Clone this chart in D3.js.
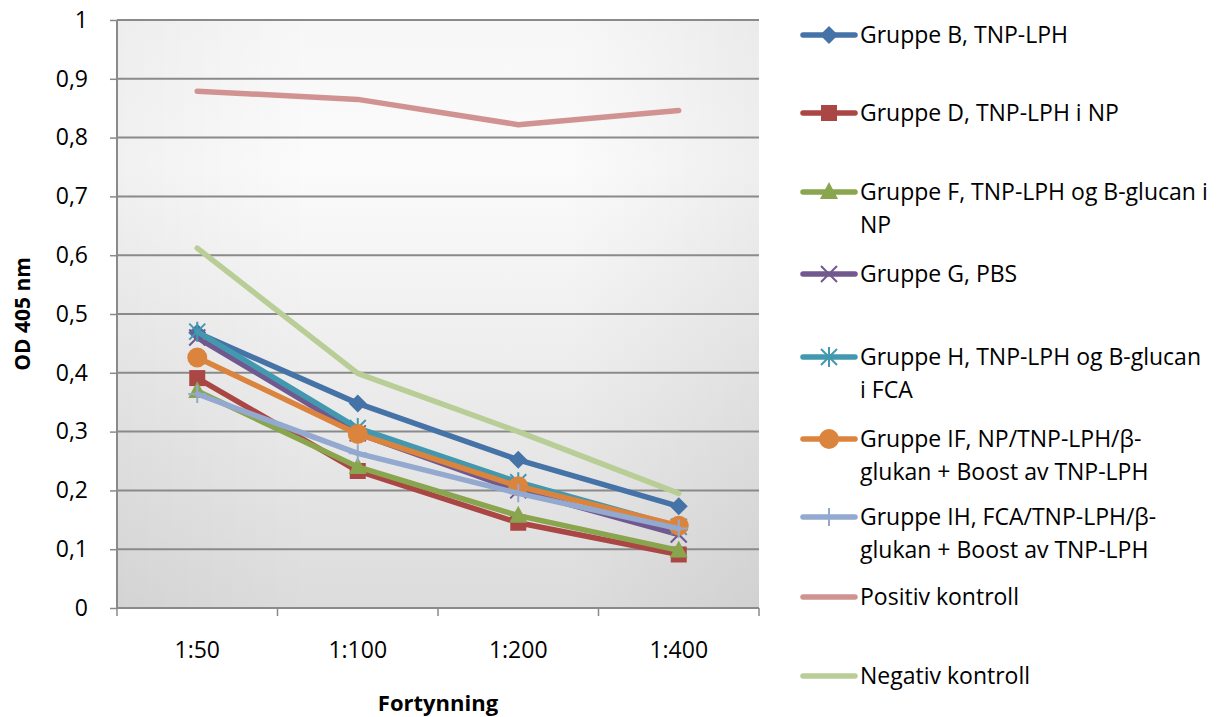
<!DOCTYPE html>
<html>
<head>
<meta charset="utf-8">
<script src="https://cdn.jsdelivr.net/npm/d3@7"></script>
<style>
  html, body { margin: 0; padding: 0; background: #ffffff; }
  svg { display: block; font-family: "Open Sans", "Noto Sans", sans-serif; }
</style>
</head>
<body>
<svg id="chart" width="1220" height="717"></svg>
<script>
// Dilution steps on the x axis
const dilutions = ["1:50", "1:100", "1:200", "1:400"];

// Y axis tick values and their labels (Norwegian decimal comma)
const yTicks = [0, 0.1, 0.2, 0.3, 0.4, 0.5, 0.6, 0.7, 0.8, 0.9, 1];
const yTickLabels = ["0", "0,1", "0,2", "0,3", "0,4", "0,5", "0,6", "0,7", "0,8", "0,9", "1"];

// Series names (legend lines), in drawing order
const seriesNames = [
  ["Gruppe B, TNP-LPH"],
  ["Gruppe D, TNP-LPH i NP"],
  ["Gruppe F, TNP-LPH og B-glucan i", "NP"],
  ["Gruppe G, PBS"],
  ["Gruppe H, TNP-LPH og B-glucan", "i FCA"],
  ["Gruppe IF, NP/TNP-LPH/β-", "glukan + Boost av TNP-LPH"],
  ["Gruppe IH, FCA/TNP-LPH/β-", "glukan + Boost av TNP-LPH"],
  ["Positiv kontroll"],
  ["Negativ kontroll"]
];

// OD 405 nm readings per series, one value per dilution
const gruppeB  = [0.468, 0.348, 0.252, 0.173];
const gruppeD  = [0.391, 0.233, 0.145, 0.091];
const gruppeF  = [0.369, 0.240, 0.157, 0.098];
const gruppeG  = [0.460, 0.297, 0.200, 0.125];
const gruppeH  = [0.470, 0.306, 0.214, 0.138];
const gruppeIF = [0.426, 0.296, 0.207, 0.140];
const gruppeIH = [0.364, 0.263, 0.195, 0.135];
const positiv  = [0.879, 0.865, 0.822, 0.846];
const negativ  = [0.612, 0.399, 0.300, 0.195];

const seriesValues = [gruppeB, gruppeD, gruppeF, gruppeG, gruppeH, gruppeIF, gruppeIH, positiv, negativ];

const seriesColors = ["#4572A7", "#AA4643", "#89A54E", "#71588F", "#4198AF", "#DB843D", "#93A9CF", "#D19392", "#B9CD96"];
const seriesMarkers = ["diamond", "square", "triangle", "x", "star", "circle", "plus", "none", "none"];

const svg = d3.select("#chart");
const plot = { left: 117, right: 759, top: 20, bottom: 608 };
const fontSize = 23;

const x = d3.scaleBand().domain(dilutions).range([plot.left, plot.right]);
const y = d3.scaleLinear().domain([0, 1]).range([plot.bottom, plot.top]);
const cx = d => x(d) + x.bandwidth() / 2;

// Plot area background: soft vertical gradient
const defs = svg.append("defs");
const grad = defs.append("linearGradient").attr("id", "bg").attr("x1", 0).attr("y1", 0).attr("x2", 0).attr("y2", 1);
grad.append("stop").attr("offset", "0%").attr("stop-color", "#f7f7f7");
grad.append("stop").attr("offset", "25%").attr("stop-color", "#fbfbfb");
grad.append("stop").attr("offset", "100%").attr("stop-color", "#dcdcdc");
const gradH = defs.append("linearGradient").attr("id", "bgH").attr("x1", 0).attr("y1", 0).attr("x2", 1).attr("y2", 0);
gradH.append("stop").attr("offset", "0%").attr("stop-color", "#000").attr("stop-opacity", 0.04);
gradH.append("stop").attr("offset", "30%").attr("stop-color", "#000").attr("stop-opacity", 0);
gradH.append("stop").attr("offset", "70%").attr("stop-color", "#000").attr("stop-opacity", 0);
gradH.append("stop").attr("offset", "100%").attr("stop-color", "#000").attr("stop-opacity", 0.05);

svg.append("rect")
  .attr("x", plot.left).attr("y", plot.top)
  .attr("width", plot.right - plot.left).attr("height", plot.bottom - plot.top)
  .attr("fill", "url(#bg)");
svg.append("rect")
  .attr("x", plot.left).attr("y", plot.top)
  .attr("width", plot.right - plot.left).attr("height", plot.bottom - plot.top)
  .attr("fill", "url(#bgH)");

// Horizontal gridlines
svg.append("g")
  .selectAll("line")
  .data(yTicks.slice(1))
  .join("line")
  .attr("x1", plot.left).attr("x2", plot.right)
  .attr("y1", d => y(d)).attr("y2", d => y(d))
  .attr("stroke", "#8a8a8a").attr("stroke-width", 2);

// Y axis
const yAxis = svg.append("g")
  .attr("transform", `translate(${plot.left},0)`)
  .call(d3.axisLeft(y).tickValues(yTicks).tickFormat((d, i) => yTickLabels[i]).tickSize(7).tickPadding(22));
yAxis.select(".domain").attr("stroke", "#8a8a8a").attr("stroke-width", 2).attr("d", `M-0,${plot.top}V${plot.bottom}`);
yAxis.selectAll(".tick line").attr("stroke", "#8a8a8a").attr("stroke-width", 1.5);
yAxis.selectAll(".tick text").attr("font-size", fontSize).attr("fill", "#000").attr("font-family", "'Open Sans', sans-serif");

// X axis
const xAxis = svg.append("g")
  .attr("transform", `translate(0,${plot.bottom})`)
  .call(d3.axisBottom(x).tickSize(0).tickPadding(34));
xAxis.select(".domain").attr("stroke", "#8a8a8a").attr("stroke-width", 2).attr("d", `M${plot.left},0H${plot.right}`);
xAxis.selectAll(".tick text").attr("font-size", fontSize).attr("fill", "#000").attr("font-family", "'Open Sans', sans-serif");
// category boundary tick marks
svg.append("g")
  .selectAll("line")
  .data(dilutions.concat(["end"]))
  .join("line")
  .attr("x1", (d, i) => plot.left + i * x.bandwidth())
  .attr("x2", (d, i) => plot.left + i * x.bandwidth())
  .attr("y1", plot.bottom).attr("y2", plot.bottom + 8)
  .attr("stroke", "#8a8a8a").attr("stroke-width", 1.5);

// Axis titles
svg.append("text")
  .attr("x", (plot.left + plot.right) / 2).attr("y", 711)
  .attr("text-anchor", "middle").attr("font-size", 22).attr("font-weight", "bold")
  .text("Fortynning");
svg.append("text")
  .attr("transform", `translate(30,${(plot.top + plot.bottom) / 2}) rotate(-90)`)
  .attr("text-anchor", "middle").attr("font-size", 21).attr("font-weight", "bold")
  .text("OD 405 nm");

// Marker drawing helper
function drawMarker(g, type, color, px, py) {
  const s = 8;
  if (type === "diamond") {
    g.append("path").attr("d", `M${px},${py - 9}L${px + 9},${py}L${px},${py + 9}L${px - 9},${py}Z`).attr("fill", color);
  } else if (type === "square") {
    g.append("rect").attr("x", px - s).attr("y", py - s).attr("width", 2 * s).attr("height", 2 * s).attr("fill", color);
  } else if (type === "triangle") {
    g.append("path").attr("d", `M${px},${py - 10}L${px + 9},${py + 7}L${px - 9},${py + 7}Z`).attr("fill", color);
  } else if (type === "circle") {
    g.append("circle").attr("cx", px).attr("cy", py).attr("r", 10).attr("fill", color);
  } else if (type === "x") {
    g.append("path").attr("d", `M${px - 8},${py - 8}L${px + 8},${py + 8}M${px - 8},${py + 8}L${px + 8},${py - 8}`)
      .attr("stroke", color).attr("stroke-width", 2).attr("fill", "none");
  } else if (type === "star") {
    g.append("path").attr("d", `M${px - 8},${py - 8}L${px + 8},${py + 8}M${px - 8},${py + 8}L${px + 8},${py - 8}M${px},${py - 10}L${px},${py + 10}`)
      .attr("stroke", color).attr("stroke-width", 2).attr("fill", "none");
  } else if (type === "plus") {
    g.append("path").attr("d", `M${px},${py - 9}L${px},${py + 9}M${px - 9},${py}L${px + 9},${py}`)
      .attr("stroke", color).attr("stroke-width", 2).attr("fill", "none");
  }
}

// Series lines and markers
const line = d3.line().x((d, i) => cx(dilutions[i])).y(d => y(d));
const seriesG = svg.append("g");
seriesValues.forEach((vals, si) => {
  const g = seriesG.append("g");
  g.append("path")
    .attr("d", line(vals))
    .attr("fill", "none")
    .attr("stroke", seriesColors[si])
    .attr("stroke-width", 5.5)
    .attr("stroke-linejoin", "round")
    .attr("stroke-linecap", "round");
  vals.forEach((v, i) => drawMarker(g, seriesMarkers[si], seriesColors[si], cx(dilutions[i]), y(v)));
});

// Legend
const legendY = [35, 113, 192, 274, 357, 439, 517, 597, 676];
const legend = svg.append("g");
seriesNames.forEach((lines, si) => {
  const g = legend.append("g");
  const ly = legendY[si];
  g.append("line")
    .attr("x1", 803).attr("x2", 855).attr("y1", ly).attr("y2", ly)
    .attr("stroke", seriesColors[si]).attr("stroke-width", 5.5).attr("stroke-linecap", "round");
  drawMarker(g, seriesMarkers[si], seriesColors[si], 829, ly);
  const t = g.append("text").attr("x", 860).attr("y", ly).attr("font-size", fontSize).attr("fill", "#000");
  lines.forEach((txt, li) => {
    t.append("tspan").attr("x", 860).attr("dy", li === 0 ? "0.35em" : 33).text(txt);
  });
});
</script>
</body>
</html>
